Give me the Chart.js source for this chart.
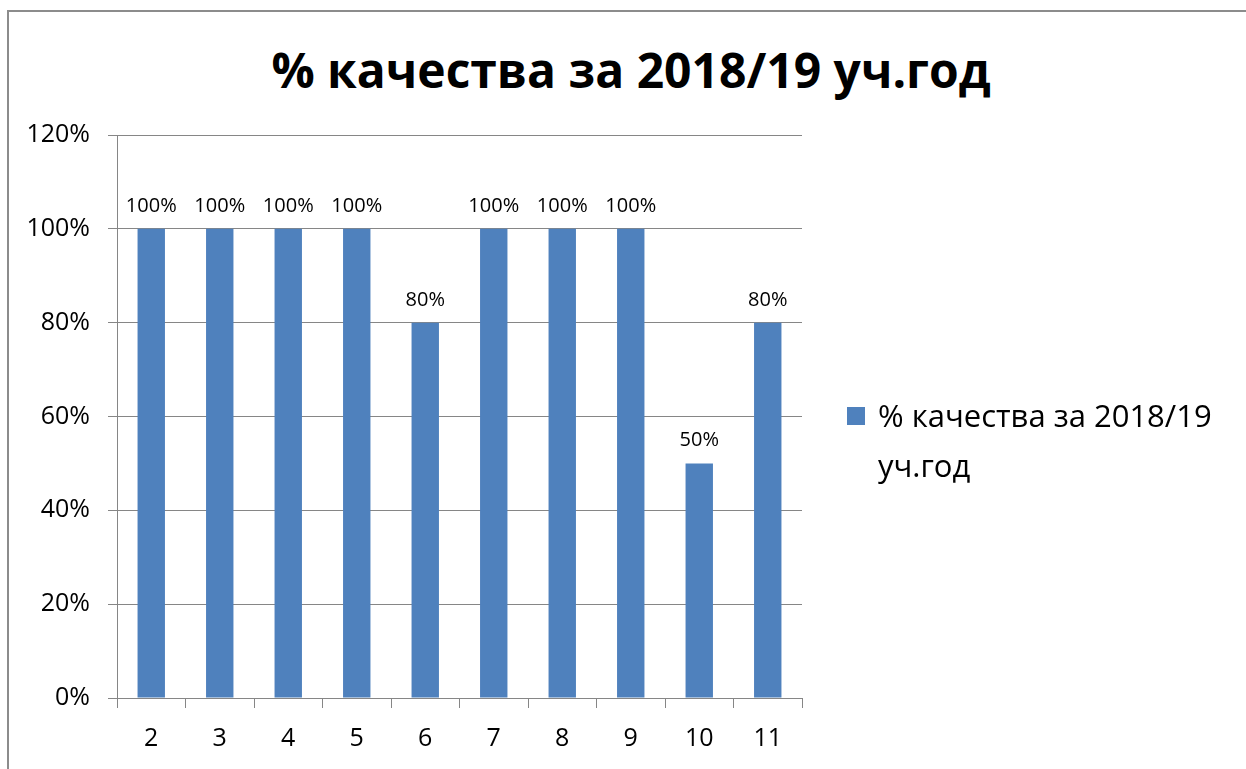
<!DOCTYPE html>
<html>
<head>
<meta charset="utf-8">
<script src="https://cdn.jsdelivr.net/npm/chart.js@4/dist/chart.umd.min.js"></script>
<style>
  body { margin: 0; background: #fff; overflow: hidden; }
  #wrap { position: relative; width: 1246px; height: 769px; font-family: "Open Sans", "Noto Sans", sans-serif; }
  #frame { position: absolute; left: 7px; top: 10px; width: 1300px; height: 800px; border: 2px solid #8c8c8c; box-sizing: border-box; }
  #title { position: absolute; left: 0; width: 1262px; top: 38px; text-align: center; font-weight: bold; font-size: 48px; line-height: 64px; color: #000; }
  #legend { position: absolute; left: 847px; top: 390px; font-size: 31px; line-height: 50px; color: #000; }
  #legend .box { position: absolute; left: 0; top: 17px; width: 18px; height: 18px; background: #4F81BD; }
  #legend .txt { margin-left: 31px; width: 390px; }
  canvas { position: absolute; left: 0; top: 0; }
</style>
</head>
<body>
<div id="wrap">
  <div id="frame"></div>
  <div id="title">% качества за 2018/19 уч.год</div>
  <canvas id="chart" width="1246" height="769"></canvas>
  <div id="legend"><span class="box"></span><div class="txt">% качества за 2018/19<br>уч.год</div></div>
</div>
<script>
const grades = ['2', '3', '4', '5', '6', '7', '8', '9', '10', '11'];
const quality = [100, 100, 100, 100, 80, 100, 100, 100, 50, 80];
const seriesName = '% качества за 2018/19 уч.год';

// draw the value above each bar
const barLabels = {
  id: 'barLabels',
  afterDatasetsDraw(chart) {
    const ctx = chart.ctx;
    ctx.save();
    ctx.font = '20px "Open Sans", sans-serif';
    ctx.fillStyle = '#000';
    ctx.textAlign = 'center';
    ctx.textBaseline = 'alphabetic';
    chart.getDatasetMeta(0).data.forEach((bar, i) => {
      ctx.fillText(quality[i] + '%', bar.x, bar.y - 17);
    });
    ctx.restore();
  }
};

const ctx = document.getElementById('chart').getContext('2d');
new Chart(ctx, {
  type: 'bar',
  data: {
    labels: grades,
    datasets: [{
      label: seriesName,
      data: quality,
      backgroundColor: '#4F81BD',
      categoryPercentage: 1,
      barPercentage: 0.4
    }]
  },
  options: {
    responsive: false,
    animation: false,
    devicePixelRatio: 1,
    layout: { padding: { top: 135, right: 444, bottom: 0, left: 0 } },
    plugins: {
      legend: { display: false },
      tooltip: { enabled: false }
    },
    scales: {
      x: {
        afterFit(scale) { scale.height = 71; },
        grid: { offset: true, drawOnChartArea: false, drawTicks: true, tickLength: 10, color: '#868686' },
        border: { display: true, color: '#868686', width: 1 },
        ticks: { color: '#000', font: { family: '"Open Sans", sans-serif', size: 25 }, padding: 16 }
      },
      y: {
        min: 0,
        max: 120,
        afterFit(scale) { scale.width = 117; },
        grid: { color: '#868686', tickLength: 9, lineWidth: 1 },
        border: { display: true, color: '#868686', width: 1 },
        ticks: {
          stepSize: 20,
          padding: 18,
          color: '#000',
          font: { family: '"Open Sans", sans-serif', size: 25 },
          callback: v => v + '%'
        }
      }
    }
  },
  plugins: [barLabels]
});
</script>
</body>
</html>
